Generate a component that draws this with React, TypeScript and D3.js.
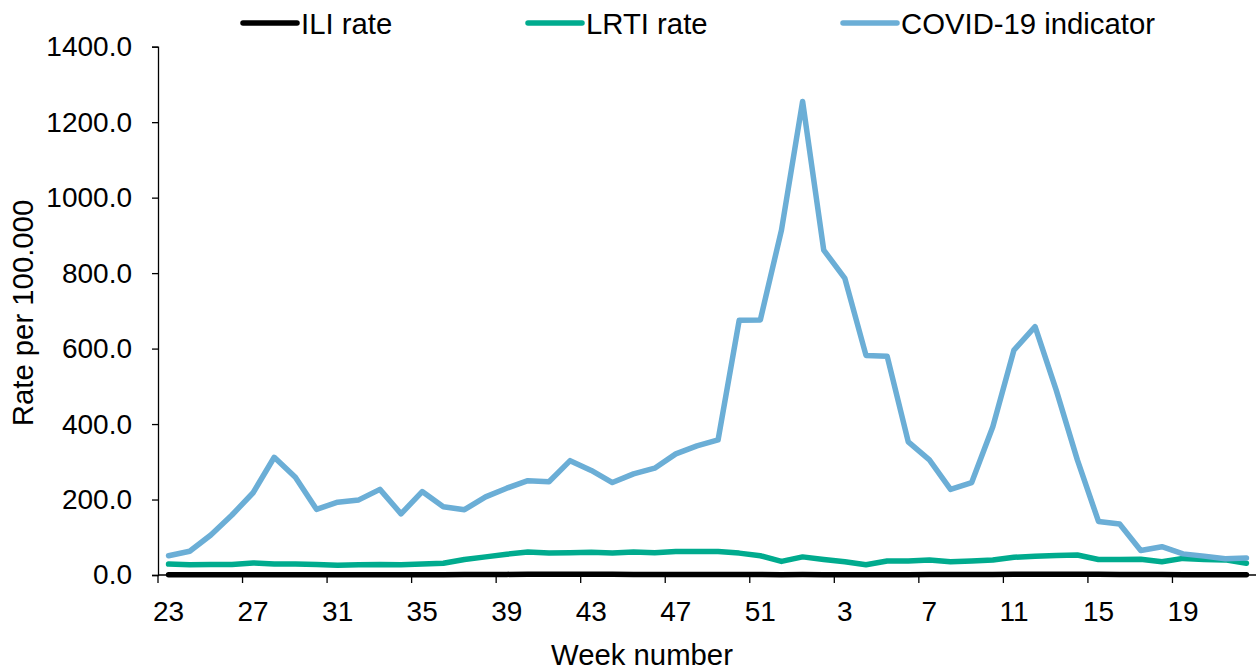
import React, { useEffect, useRef } from 'react';
import * as d3 from 'd3';

// Week labels (week 23 of one year through week 22 of the next)
const weeks = [
  '23', '24', '25', '26', '27', '28', '29', '30', '31', '32', '33', '34', '35', '36', '37', '38',
  '39', '40', '41', '42', '43', '44', '45', '46', '47', '48', '49', '50', '51', '52',
  '1', '2', '3', '4', '5', '6', '7', '8', '9', '10', '11', '12', '13', '14', '15', '16',
  '17', '18', '19', '20', '21', '22',
];

const iliRate = [
  0.8, 0.7, 0.7, 0.8, 0.8, 0.9, 0.8, 0.7, 0.7, 0.8, 0.8, 0.7, 0.8, 0.9, 1.0, 1.2,
  1.6, 2.0, 2.3, 2.1, 1.9, 1.7, 1.6, 1.5, 1.4, 1.3, 1.2, 1.2, 1.1, 0.9,
  1.0, 0.9, 0.8, 0.8, 0.9, 0.9, 1.0, 1.1, 1.3, 1.6, 1.9, 2.2, 2.3, 2.1, 1.8, 1.5,
  1.2, 1.0, 0.9, 0.9, 0.8, 0.7,
];

const lrtiRate = [
  29, 27, 28, 28, 32, 29, 29, 27.5, 26, 27, 28, 27, 29, 31, 41, 48,
  55, 61, 58, 59, 60, 58, 61, 59, 62, 62, 62, 58, 51, 36,
  48, 41, 35, 27, 37, 37, 40, 35, 37, 40, 47, 50, 52, 53, 41, 41,
  42, 35, 44, 41, 40, 31,
];

const covidIndicator = [
  51, 63, 106, 159, 218, 312, 259, 174, 193, 199, 227, 162, 221, 181, 173, 207,
  230, 250, 247, 303, 277, 245, 268, 283, 321, 342, 358, 675, 676, 914,
  1255, 861, 786, 582, 580, 353, 305, 227, 245, 393, 596, 658, 490, 305, 142, 135,
  65, 75, 56, 50, 43, 45,
];

const yTicks = [0, 200, 400, 600, 800, 1000, 1200, 1400];

const series = [
  { name: 'ILI rate', values: iliRate, color: '#000000' },
  { name: 'LRTI rate', values: lrtiRate, color: '#00ab8e' },
  { name: 'COVID-19 indicator', values: covidIndicator, color: '#6baed6' },
];

const W = 1256;
const H = 671;
const FONT = 'Arial, "Liberation Sans", sans-serif';

const App: React.FC = () => {
  const svgRef = useRef<SVGSVGElement>(null);

  useEffect(() => {
    document.body.style.margin = '0';
    const svg = d3.select(svgRef.current);
    svg.selectAll('*').remove();

    const left = 158;
    const right = 1257;
    const top = 46.7;
    const bottom = 575;

    const x = d3.scaleBand<string>().domain(weeks).range([left, right]).padding(0);
    const y = d3.scaleLinear().domain([0, 1400]).range([bottom, top]);
    const cx = (w: string) => (x(w) || 0) + x.bandwidth() / 2;

    // Y axis
    const yAxis = svg.append('g').attr('transform', `translate(${left},0)`)
      .call(d3.axisLeft(y).tickValues(yTicks).tickSize(6).tickPadding(20).tickFormat(d3.format('.1f')));
    yAxis.select('.domain').attr('stroke', '#000').attr('stroke-width', 1.3);
    yAxis.selectAll('line').attr('stroke', '#000').attr('stroke-width', 1.3);
    yAxis.selectAll('text').style('font-family', FONT).style('font-size', '28px').attr('fill', '#000');

    // X axis: ticks at band boundaries every 4 weeks, labels at band centres
    const xg = svg.append('g');
    xg.append('line')
      .attr('x1', left).attr('x2', right).attr('y1', bottom).attr('y2', bottom)
      .attr('stroke', '#000').attr('stroke-width', 1.3);
    const labelled = weeks.filter((_, i) => i % 4 === 0);
    xg.selectAll('.xtick').data(labelled).enter().append('line')
      .attr('x1', d => x(d) || 0).attr('x2', d => x(d) || 0)
      .attr('y1', bottom).attr('y2', bottom + 8)
      .attr('stroke', '#000').attr('stroke-width', 1.3);
    xg.selectAll('.xlabel').data(labelled).enter().append('text')
      .attr('x', d => cx(d)).attr('y', 621)
      .attr('text-anchor', 'middle')
      .style('font-family', FONT).style('font-size', '28px')
      .text(d => d);

    // Lines
    const line = d3.line<number>()
      .x((_, i) => cx(weeks[i]))
      .y(d => y(d));

    series.forEach(s => {
      svg.append('path')
        .datum(s.values)
        .attr('fill', 'none')
        .attr('stroke', s.color)
        .attr('stroke-width', 5.5)
        .attr('stroke-linejoin', 'round')
        .attr('stroke-linecap', 'round')
        .attr('d', line);
    });

    // Axis titles
    svg.append('text')
      .attr('transform', `translate(33,313) rotate(-90)`)
      .attr('text-anchor', 'middle')
      .style('font-family', FONT).style('font-size', '29.3px')
      .text('Rate per 100.000');

    svg.append('text')
      .attr('x', 642).attr('y', 665)
      .attr('text-anchor', 'middle')
      .style('font-family', FONT).style('font-size', '29.3px')
      .text('Week number');

    // Legend
    const legendX = [243, 528, 843];
    series.forEach((s, i) => {
      const g = svg.append('g').attr('transform', `translate(${legendX[i]},23)`);
      g.append('line')
        .attr('x1', 0).attr('x2', 54).attr('y1', 0).attr('y2', 0)
        .attr('stroke', s.color).attr('stroke-width', 5.5).attr('stroke-linecap', 'round');
      g.append('text')
        .attr('x', 58).attr('y', 10.5)
        .style('font-family', FONT).style('font-size', '29.3px')
        .text(s.name);
    });
  }, []);

  return (
    <svg ref={svgRef} width={W} height={H} style={{ display: 'block', background: '#fff' }}></svg>
  );
};

export default App;
